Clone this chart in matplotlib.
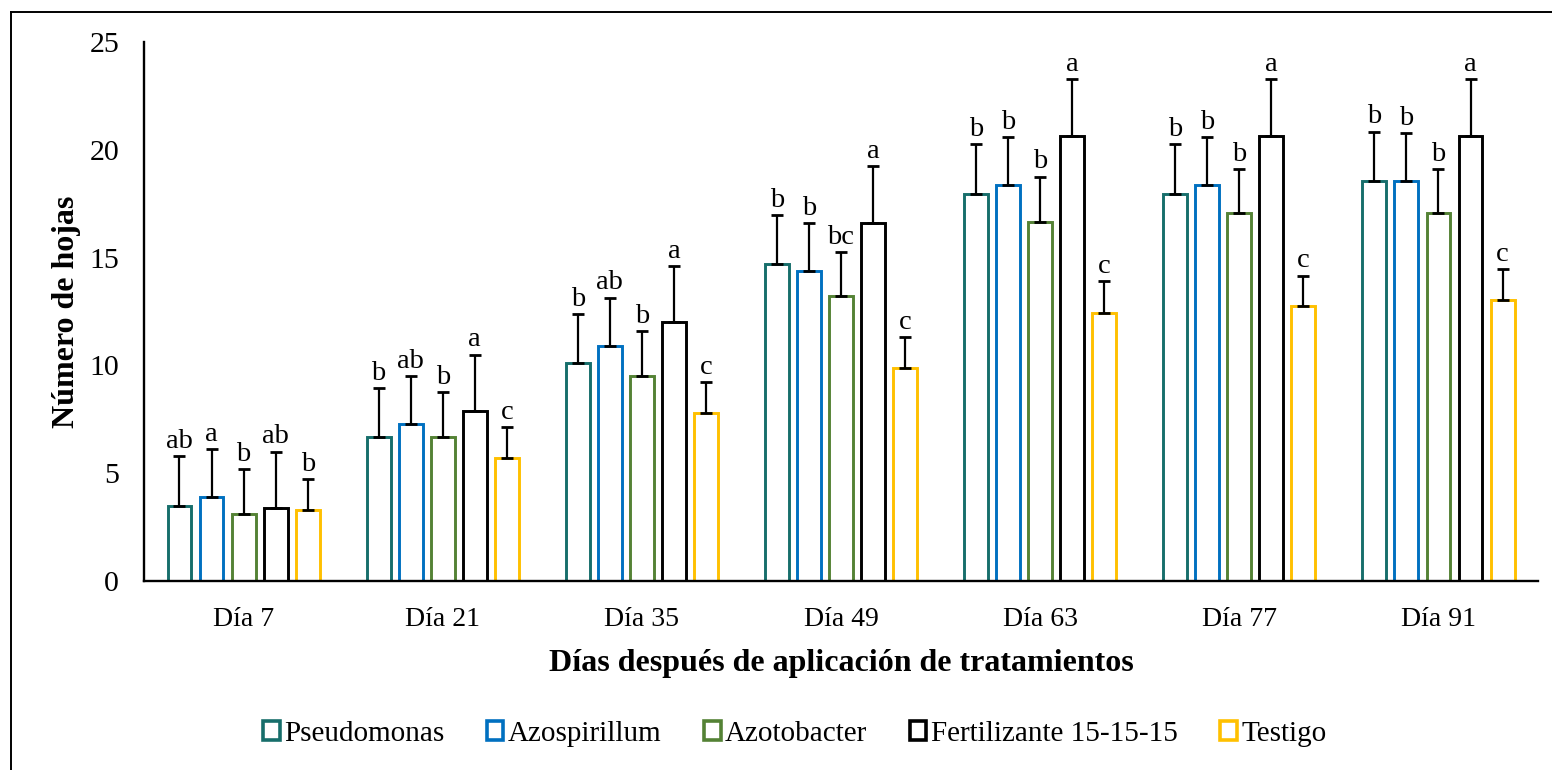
import matplotlib
matplotlib.use("Agg")
import matplotlib.pyplot as plt
import numpy as np
from matplotlib.patches import Patch
from matplotlib.lines import Line2D

plt.rcParams['font.family'] = ['Liberation Serif', 'DejaVu Serif']

dias = ['Día 7', 'Día 21', 'Día 35', 'Día 49', 'Día 63', 'Día 77', 'Día 91']
tratamientos = ['Pseudomonas', 'Azospirillum', 'Azotobacter', 'Fertilizante 15-15-15', 'Testigo']
colores = ['#176E6B', '#0070C0', '#548235', '#000000', '#FFC000']

pseudomonas = [3.5, 6.7, 10.1, 14.7, 17.95, 17.95, 18.55]
azospirillum = [3.9, 7.3, 10.9, 14.4, 18.35, 18.35, 18.55]
azotobacter = [3.1, 6.7, 9.5, 13.2, 16.65, 17.05, 17.05]
fertilizante = [3.4, 7.9, 12.0, 16.6, 20.65, 20.65, 20.65]
testigo = [3.3, 5.7, 7.8, 9.9, 12.45, 12.75, 13.05]

err_pseudomonas = [2.3, 2.25, 2.28, 2.27, 2.3, 2.3, 2.29]
err_azospirillum = [2.22, 2.2, 2.24, 2.2, 2.22, 2.22, 2.22]
err_azotobacter = [2.1, 2.07, 2.1, 2.05, 2.1, 2.05, 2.05]
err_fertilizante = [2.6, 2.6, 2.61, 2.63, 2.63, 2.63, 2.63]
err_testigo = [1.43, 1.42, 1.42, 1.4, 1.44, 1.41, 1.42]

letras_pseudomonas = ['ab', 'b', 'b', 'b', 'b', 'b', 'b']
letras_azospirillum = ['a', 'ab', 'ab', 'b', 'b', 'b', 'b']
letras_azotobacter = ['b', 'b', 'b', 'bc', 'b', 'b', 'b']
letras_fertilizante = ['ab', 'a', 'a', 'a', 'a', 'a', 'a']
letras_testigo = ['b', 'c', 'c', 'c', 'c', 'c', 'c']

valores = [pseudomonas, azospirillum, azotobacter, fertilizante, testigo]
errores = [err_pseudomonas, err_azospirillum, err_azotobacter, err_fertilizante, err_testigo]
letras = [letras_pseudomonas, letras_azospirillum, letras_azotobacter, letras_fertilizante, letras_testigo]

fig = plt.figure(figsize=(15.52, 7.70), dpi=100)
ax = fig.add_axes([0.0928, 0.2455, 0.8982, 0.7])

x = np.arange(len(dias))
paso = 0.161
ancho = 0.12

for i in range(len(tratamientos)):
    pos = x + (i - 2) * paso
    ax.bar(pos, valores[i], width=ancho, facecolor='white', edgecolor=colores[i],
           linewidth=2.1, zorder=2)
    ax.errorbar(pos, valores[i], yerr=[np.zeros(len(dias)), errores[i]], fmt='none',
                ecolor='black', elinewidth=1.6, capsize=4, capthick=2.0, zorder=3)
    for j in range(len(dias)):
        ax.annotate(letras[i][j], (pos[j], valores[i][j] + errores[i][j]),
                    xytext=(0, 6), textcoords='offset points',
                    ha='center', va='baseline', fontsize=20.5)

ax.set_xlim(-0.5, len(dias) - 0.5)
ax.set_ylim(0, 25)
ax.set_yticks(np.arange(0, 26, 5))
ax.set_xticks(x)
ax.set_xticklabels(dias)
ax.tick_params(axis='both', length=0, labelsize=20)
ax.tick_params(axis='y', pad=18, labelsize=21.5)
ax.tick_params(axis='x', pad=19)
for s in ['top', 'right']:
    ax.spines[s].set_visible(False)
for s in ['left', 'bottom']:
    ax.spines[s].set_linewidth(1.7)
    ax.spines[s].set_color('black')

ax.set_ylabel('Número de hojas', fontsize=23, fontweight='bold', labelpad=6)
ax.set_xlabel('Días después de aplicación de tratamientos', fontsize=23,
              fontweight='bold', labelpad=12)

handles = [Patch(facecolor='white', edgecolor=c, linewidth=2.6) for c in colores]
fig.legend(handles, tratamientos, loc='center', bbox_to_anchor=(0.512, 0.047),
           ncol=5, frameon=False, fontsize=21, handlelength=0.58, handleheight=0.58,
           handletextpad=0.15, columnspacing=1.45)

# marco exterior
fx = 11 / 1552
fy = 1 - 11.7 / 770
fig.add_artist(Line2D([fx, fx], [0, fy], color='black', linewidth=1.4))
fig.add_artist(Line2D([fx, 1], [fy, fy], color='black', linewidth=1.4))

fig.savefig('out.png', dpi=100)
